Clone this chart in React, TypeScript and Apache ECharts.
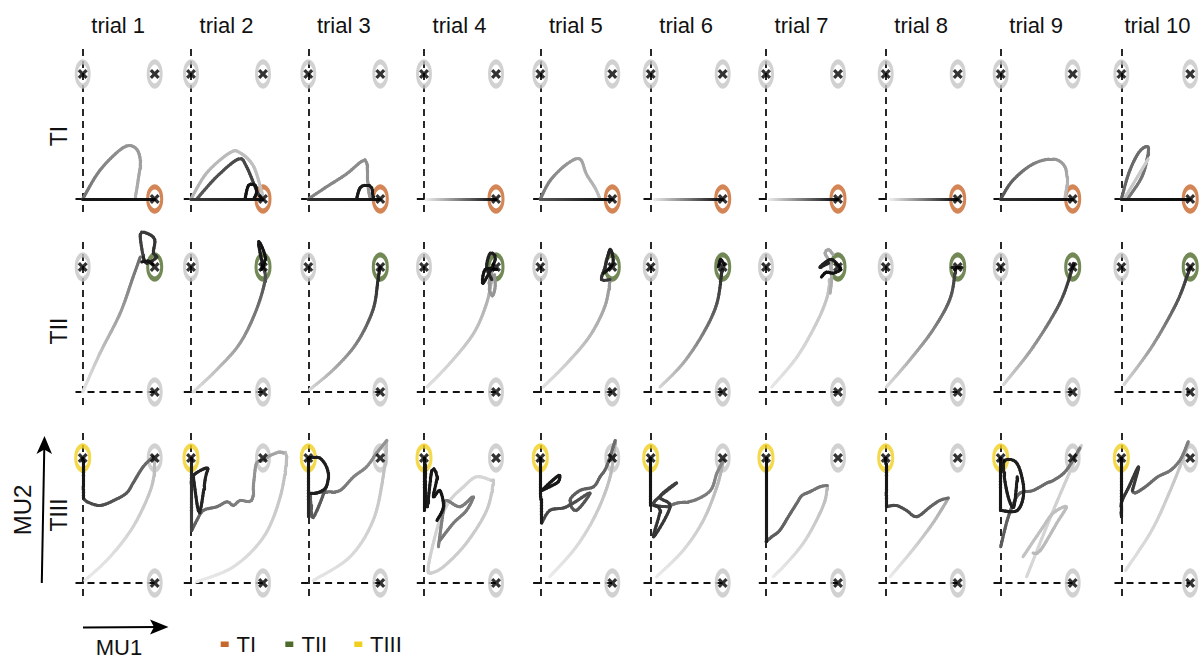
import React, { useEffect, useRef } from "react";
import * as echarts from "echarts";

type Pt = [number, number];
type Traj = { g: [number, number]; p: Pt[] };

// ---------- labels ----------
const trialLabels = ["trial 1", "trial 2", "trial 3", "trial 4", "trial 5", "trial 6", "trial 7", "trial 8", "trial 9", "trial 10"];
const rowLabels = ["TI", "TII", "TIII"];
const legendLabels = ["TI", "TII", "TIII"];
const axisLabelX = "MU1";
const axisLabelY = "MU2";
const targetColors = ["#c8672b", "#4f6b2c", "#f0d01e"];
const cornerPoints: Pt[] = [[0, 1], [1, 1], [1, 0]];
const targetPoints: Pt[] = [[1, 0], [1, 1], [0, 1]];

// ---------- trajectories (g = gray level at start / end, p = MU1, MU2 points) ----------
const TI_1: Traj[] = [
  { g: [115, 175], p: [[0, 0], [0.24, 0.23], [0.56, 0.41], [0.73, 0.41], [0.8, 0.31], [0.77, 0.15], [0.73, 0.01]] },
  { g: [25, 15], p: [[0, 0], [1, 0]] },
];
const TI_2: Traj[] = [
  { g: [180, 195], p: [[0, 0], [0.22, 0.21], [0.54, 0.37], [0.68, 0.37], [0.87, 0.26], [1.0, 0.02]] },
  { g: [90, 60], p: [[0.08, 0], [0.36, 0.18], [0.66, 0.32], [0.77, 0.26], [0.91, 0.07], [0.98, 0]] },
  { g: [20, 20], p: [[0.75, 0], [0.8, 0.11], [0.89, 0.11], [0.91, 0.05], [0.87, 0]] },
  { g: [60, 15], p: [[0, 0], [1, 0]] },
];
const TI_3: Traj[] = [
  { g: [130, 150], p: [[0, 0], [0.26, 0.1], [0.53, 0.2], [0.74, 0.3], [0.81, 0.29], [0.83, 0.1], [0.86, 0]] },
  { g: [25, 25], p: [[0.67, 0], [0.72, 0.09], [0.81, 0.11], [0.88, 0.09], [0.9, 0]] },
  { g: [50, 15], p: [[0, 0], [1, 0]] },
];
const TI_4: Traj[] = [{ g: [240, 10], p: [[0.03, 0], [0.6, 0], [1, 0]] }];
const TI_5: Traj[] = [
  { g: [120, 190], p: [[0, 0], [0.14, 0.15], [0.37, 0.28], [0.55, 0.32], [0.64, 0.2], [0.76, 0.09], [0.83, 0]] },
  { g: [90, 10], p: [[0, 0], [1, 0]] },
];
const TI_6: Traj[] = [{ g: [235, 10], p: [[0.05, 0], [1, 0]] }];
const TI_7: Traj[] = [{ g: [235, 10], p: [[0.05, 0], [1, 0]] }];
const TI_8: Traj[] = [{ g: [240, 10], p: [[0.07, 0], [1, 0]] }];
const TI_9: Traj[] = [
  { g: [80, 190], p: [[0, 0], [0.17, 0.15], [0.45, 0.28], [0.73, 0.32], [0.89, 0.26], [0.92, 0.13], [0.89, 0]] },
  { g: [50, 15], p: [[0, 0], [1, 0]] },
];
const TI_10: Traj[] = [
  { g: [100, 120], p: [[0, 0], [0.11, 0.21], [0.25, 0.37], [0.37, 0.42], [0.39, 0.37], [0.3, 0.18], [0.09, 0]] },
  { g: [195, 205], p: [[0.04, 0], [0.39, 0.32]] },
  { g: [30, 10], p: [[0, 0], [1, 0]] },
];

const TII_1: Traj[] = [
  { g: [230, 110], p: [[0, 0], [0.24, 0.31], [0.52, 0.63], [0.7, 0.92], [0.8, 1.08]] },
  { g: [70, 40], p: [[0.84, 1.08], [0.8, 1.26], [0.89, 1.27], [1.0, 1.22], [0.98, 1.11], [1.03, 1.08], [0.89, 1.03], [0.84, 1.08]] },
  { g: [25, 20], p: [[0.82, 1.04], [0.9, 1.05], [0.98, 1.02]] },
];
const TII_2: Traj[] = [
  { g: [225, 70], p: [[0.03, 0], [0.36, 0.18], [0.68, 0.39], [0.91, 0.66], [1.03, 0.9], [1.0, 1.0]] },
  { g: [30, 15], p: [[1.0, 1.0], [0.94, 1.18], [0.96, 1.19], [1.03, 1.08], [0.98, 0.98]] },
];
const TII_3: Traj[] = [
  { g: [215, 25], p: [[0.02, 0.02], [0.35, 0.18], [0.67, 0.39], [0.9, 0.66], [0.97, 0.91], [1.0, 1.0]] },
];
const TII_4: Traj[] = [
  { g: [225, 170], p: [[0.04, 0.04], [0.36, 0.23], [0.69, 0.47], [0.87, 0.71], [0.94, 0.9]] },
  { g: [150, 150], p: [[0.95, 0.98], [0.9, 0.85], [0.95, 0.77], [0.99, 0.85], [0.97, 0.94]] },
  { g: [40, 15], p: [[0.94, 0.9], [0.87, 1.0], [0.92, 1.11], [0.99, 1.06], [0.82, 0.87], [0.85, 0.98], [1.01, 0.98]] },
];
const TII_5: Traj[] = [
  { g: [225, 150], p: [[0.04, 0.04], [0.37, 0.23], [0.69, 0.45], [0.9, 0.69], [0.97, 0.9]] },
  { g: [60, 20], p: [[0.97, 0.9], [0.85, 0.9], [0.9, 1.0], [0.97, 1.14], [1.01, 1.03], [0.88, 0.95]] },
];
const TII_6: Traj[] = [
  { g: [215, 40], p: [[0.13, 0.04], [0.45, 0.23], [0.73, 0.47], [0.92, 0.71], [0.99, 0.98]] },
  { g: [20, 20], p: [[0.94, 1.0], [0.97, 1.06], [1.02, 1.02]] },
];
const TII_7: Traj[] = [
  { g: [230, 190], p: [[0.08, 0.04], [0.43, 0.28], [0.7, 0.55], [0.85, 0.76], [0.88, 0.9]] },
  { g: [175, 165], p: [[0.89, 0.79], [0.91, 0.9], [0.89, 1.03], [0.82, 1.11], [0.87, 1.14], [0.93, 1.1]] },
  { g: [40, 15], p: [[0.87, 1.03], [0.75, 1.0], [0.89, 1.06], [0.98, 1.03], [1.03, 0.98], [0.93, 0.95], [0.84, 0.96], [0.77, 0.92]] },
];
const TII_8: Traj[] = [
  { g: [220, 55], p: [[0.01, 0.04], [0.34, 0.26], [0.66, 0.5], [0.89, 0.74], [0.96, 0.95], [0.94, 1.0]] },
  { g: [30, 30], p: [[0.92, 1.0], [1.06, 1.0]] },
];
const TII_9: Traj[] = [{ g: [215, 35], p: [[0.04, 0.06], [0.45, 0.36], [0.82, 0.71], [0.99, 0.98], [1.01, 1.03]] }];
const TII_10: Traj[] = [{ g: [215, 45], p: [[0.04, 0.06], [0.44, 0.36], [0.8, 0.71], [0.97, 0.95], [1.01, 1.0]] }];

const TIII_1: Traj[] = [
  { g: [235, 185], p: [[0.03, 0.02], [0.38, 0.21], [0.7, 0.45], [0.94, 0.74], [1.0, 0.93], [0.98, 1.01]] },
  { g: [110, 70], p: [[0.98, 1.01], [0.84, 0.93], [0.7, 0.8], [0.61, 0.72], [0.43, 0.66], [0.24, 0.62], [0.06, 0.65], [0.01, 0.68]] },
  { g: [30, 15], p: [[0.01, 0.68], [0, 1.0]] },
];
const TIII_2: Traj[] = [
  { g: [235, 185], p: [[0.08, 0.01], [0.59, 0.13], [1.01, 0.37], [1.24, 0.69], [1.33, 1.01], [1.28, 1.04]] },
  { g: [170, 95], p: [[1.28, 1.04], [1.24, 1.05], [1.1, 1.02], [1.0, 0.98], [0.91, 0.96], [0.87, 0.8], [0.84, 0.66], [0.68, 0.66], [0.59, 0.62], [0.5, 0.65], [0.36, 0.61], [0.17, 0.58], [0.08, 0.5], [0.01, 0.42]] },
  { g: [35, 35], p: [[0.03, 0.86], [0.1, 0.58], [0.14, 0.61], [0.2, 0.84], [0.23, 0.92], [0.1, 0.89], [0.03, 0.86]] },
  { g: [70, 30], p: [[0.01, 0.42], [0, 1.0]] },
];
const TIII_3: Traj[] = [
  { g: [230, 185], p: [[0.07, 0.02], [0.58, 0.21], [0.9, 0.5], [1.04, 0.85], [1.09, 1.14]] },
  { g: [150, 110], p: [[1.09, 1.14], [0.95, 1.04], [0.81, 0.93], [0.63, 0.85], [0.44, 0.74], [0.26, 0.73], [0.07, 0.72]] },
  { g: [90, 90], p: [[0.03, 0.72], [0.05, 0.53], [0.12, 0.58], [0.25, 0.77]] },
  { g: [30, 30], p: [[0, 1], [0.16, 1.0], [0.27, 0.9], [0.25, 0.77], [0.12, 0.72], [0.03, 0.72]] },
  { g: [40, 20], p: [[0, 0.53], [0, 1]] },
];
const TIII_4: Traj[] = [
  { g: [215, 200], p: [[0.94, 0.82], [0.73, 0.85], [0.55, 0.77], [0.36, 0.66], [0.22, 0.5], [0.13, 0.32], [0.06, 0.13], [0.08, 0.08], [0.27, 0.13], [0.59, 0.32], [0.87, 0.58], [0.96, 0.8], [0.94, 0.82]] },
  { g: [130, 120], p: [[0.2, 0.29], [0.27, 0.58], [0.31, 0.66], [0.5, 0.61], [0.68, 0.69], [0.59, 0.58], [0.41, 0.48], [0.22, 0.34]] },
  { g: [30, 20], p: [[0.01, 0.96], [0.04, 0.61], [0.11, 0.9], [0.18, 0.85], [0.13, 0.69], [0.22, 0.74], [0.27, 0.61], [0.18, 0.5]] },
  { g: [20, 20], p: [[0, 0.58], [0, 1]] },
];
const TIII_5: Traj[] = [
  { g: [235, 175], p: [[0.13, 0.05], [0.5, 0.29], [0.78, 0.56], [0.97, 0.85], [1.04, 1.14]] },
  { g: [110, 70], p: [[1.04, 1.14], [0.92, 0.93], [0.83, 0.85], [0.74, 0.77], [0.55, 0.74], [0.41, 0.66], [0.5, 0.58], [0.69, 0.72], [0.46, 0.64], [0.32, 0.6], [0.13, 0.58], [0.02, 0.48]] },
  { g: [25, 25], p: [[0.02, 0.74], [0.13, 0.8], [0.23, 0.85], [0.27, 0.86], [0.25, 0.81], [0.13, 0.77], [0.02, 0.74]] },
  { g: [30, 15], p: [[0.01, 0.48], [0, 1]] },
];
const TIII_6: Traj[] = [
  { g: [235, 175], p: [[0.08, 0.05], [0.45, 0.26], [0.73, 0.5], [0.92, 0.77], [1.01, 0.98]] },
  { g: [140, 110], p: [[1.01, 0.98], [0.92, 0.88], [0.83, 0.74], [0.6, 0.66], [0.37, 0.64], [0.23, 0.61]] },
  { g: [70, 50], p: [[0.23, 0.61], [0.04, 0.64], [0.36, 0.8], [0.13, 0.69], [0.27, 0.61], [0.04, 0.37], [0.13, 0.58], [0.04, 0.62]] },
  { g: [25, 15], p: [[0, 0.62], [0, 1]] },
];
const TIII_7: Traj[] = [
  { g: [235, 185], p: [[0.1, 0.05], [0.29, 0.16], [0.52, 0.32], [0.7, 0.5], [0.82, 0.66], [0.85, 0.78]] },
  { g: [120, 90], p: [[0.85, 0.78], [0.75, 0.77], [0.61, 0.73], [0.5, 0.7], [0.43, 0.64], [0.31, 0.53], [0.19, 0.42], [0.08, 0.37], [0, 0.33]] },
  { g: [30, 15], p: [[0, 0.33], [0, 1]] },
];
const TIII_8: Traj[] = [
  { g: [235, 170], p: [[0.06, 0.05], [0.34, 0.24], [0.62, 0.45], [0.8, 0.61], [0.87, 0.68]] },
  { g: [110, 70], p: [[0.87, 0.68], [0.75, 0.66], [0.62, 0.61], [0.43, 0.53], [0.29, 0.58], [0.15, 0.62], [0.01, 0.61]] },
  { g: [30, 15], p: [[0.01, 0.61], [0, 1]] },
];
const TIII_9: Traj[] = [
  { g: [215, 205], p: [[0.36, 0.05], [0.73, 0.58], [1.12, 1.1]] },
  { g: [195, 185], p: [[0.31, 0.21], [0.59, 0.45], [0.73, 0.56], [0.91, 0.61], [0.78, 0.48], [0.55, 0.26], [0.45, 0.24]] },
  { g: [90, 120], p: [[0.0, 0.29], [0.09, 0.5], [0.18, 0.64], [0.27, 0.72], [0.45, 0.74], [0.64, 0.8], [0.73, 0.82], [0.91, 0.9], [1.1, 1.08]] },
  { g: [30, 30], p: [[0, 0.58], [0.23, 0.58], [0.32, 0.72], [0.27, 0.9], [0.18, 0.98], [0.04, 0.96], [0.09, 0.72], [0.18, 0.61], [0.23, 0.85]] },
  { g: [25, 20], p: [[0, 0.58], [0, 1]] },
];
const TIII_10: Traj[] = [
  { g: [225, 190], p: [[0.06, 0.1], [0.44, 0.42], [0.71, 0.74], [0.94, 1.06], [0.97, 1.13]] },
  { g: [130, 100], p: [[0.97, 1.13], [0.86, 0.99], [0.71, 0.9], [0.53, 0.85], [0.35, 0.77], [0.2, 0.72], [0.16, 0.74]] },
  { g: [60, 50], p: [[0.16, 0.74], [0.25, 0.93], [0.11, 0.77], [0.0, 0.64], [0.0, 0.53]] },
  { g: [30, 15], p: [[0, 0.53], [0, 1]] },
];

const rowsData: Traj[][][] = [
  [TI_1, TI_2, TI_3, TI_4, TI_5, TI_6, TI_7, TI_8, TI_9, TI_10],
  [TII_1, TII_2, TII_3, TII_4, TII_5, TII_6, TII_7, TII_8, TII_9, TII_10],
  [TIII_1, TIII_2, TIII_3, TIII_4, TIII_5, TIII_6, TIII_7, TIII_8, TIII_9, TIII_10],
];

// ---------- layout (pixels) ----------
const UX = 72;
const UY = 125;
const X_MIN = -0.2, X_MAX = 1.2, Y_MIN = -0.2, Y_MAX = 1.3;
const colOrigins = [82.7, 191, 308.3, 424, 540.3, 650.7, 766, 885.7, 1000.7, 1122];
const rowTops = [74, 267, 458];
const rowLabelY = [136, 331, 515];
const FONT = '"Liberation Sans", Arial, Helvetica, sans-serif';

const X_SYMBOL =
  "path://M2.3,0 L5,2.7 L7.7,0 L10,2.3 L7.3,5 L10,7.7 L7.7,10 L5,7.3 L2.3,10 L0,7.7 L2.7,5 L0,2.3 Z";

// smooth rendering of a trajectory (like a line series' smooth option), coloured along its length
function smoothPath(pts: Pt[]): Pt[] {
  if (pts.length < 3) return pts.slice();
  const out: Pt[] = [pts[0]];
  for (let i = 0; i < pts.length - 1; i++) {
    const p0 = pts[Math.max(0, i - 1)], p1 = pts[i], p2 = pts[i + 1], p3 = pts[Math.min(pts.length - 1, i + 2)];
    const len = Math.hypot((p2[0] - p1[0]) * UX, (p2[1] - p1[1]) * UY);
    const n = Math.max(2, Math.ceil(len / 3));
    for (let k = 1; k <= n; k++) {
      const t = k / n, t2 = t * t, t3 = t2 * t;
      const f = (a: number, b: number, c: number, d: number) =>
        0.5 * (2 * b + (-a + c) * t + (2 * a - 5 * b + 4 * c - d) * t2 + (-a + 3 * b - 3 * c + d) * t3);
      out.push([f(p0[0], p1[0], p2[0], p3[0]), f(p0[1], p1[1], p2[1], p3[1])]);
    }
  }
  return out;
}

function trajItems(tr: Traj) {
  const [g0, g1] = tr.g;
  let pts = smoothPath(tr.p);
  if (pts.length === 2) {
    const a = pts[0], b = pts[1];
    const len = Math.hypot((b[0] - a[0]) * UX, (b[1] - a[1]) * UY);
    const n = Math.max(1, Math.ceil(len / 3));
    pts = [];
    for (let k = 0; k <= n; k++) pts.push([a[0] + (b[0] - a[0]) * k / n, a[1] + (b[1] - a[1]) * k / n]);
  }
  const lens: number[] = [];
  let total = 0;
  for (let i = 0; i < pts.length - 1; i++) {
    const d = Math.hypot((pts[i + 1][0] - pts[i][0]) * UX, (pts[i + 1][1] - pts[i][1]) * UY);
    lens.push(d);
    total += d;
  }
  const items: any[] = [];
  let acc = 0;
  for (let i = 0; i < pts.length - 1; i++) {
    const f = total > 0 ? (acc + lens[i] / 2) / total : 0;
    const g = Math.round(g0 + (g1 - g0) * f);
    items.push({ coords: [pts[i], pts[i + 1]], lineStyle: { color: `rgb(${g},${g},${g})` } });
    acc += lens[i];
  }
  return items;
}

function buildOption() {
  const grid: any[] = [];
  const xAxis: any[] = [];
  const yAxis: any[] = [];
  const series: any[] = [];

  for (let r = 0; r < 3; r++) {
    for (let c = 0; c < 10; c++) {
      const i = r * 10 + c;
      grid.push({
        left: colOrigins[c] + X_MIN * UX,
        top: rowTops[r] - (Y_MAX - 1) * UY,
        width: (X_MAX - X_MIN) * UX,
        height: (Y_MAX - Y_MIN) * UY,
        show: false,
      });
      xAxis.push({ type: "value", gridIndex: i, min: X_MIN, max: X_MAX, show: false });
      yAxis.push({ type: "value", gridIndex: i, min: Y_MIN, max: Y_MAX, show: false });

      // dashed axes
      series.push({
        type: "lines",
        coordinateSystem: "cartesian2d",
        xAxisIndex: i,
        yAxisIndex: i,
        polyline: false,
        silent: true,
        clip: false,
        z: 1,
        lineStyle: { color: "#111", width: 1.8, type: [7, 5], opacity: 1 },
        data: [
          { coords: [[0, 1.2], [0, -0.11]] },
          { coords: [[-0.1, 0], [1.0, 0]] },
        ],
      });

      const tgt = targetPoints[r];
      const others = cornerPoints.filter((p) => !(p[0] === tgt[0] && p[1] === tgt[1]));
      series.push({
        type: "scatter",
        xAxisIndex: i,
        yAxisIndex: i,
        silent: true,
        z: 2,
        symbol: "circle",
        symbolSize: [13, 24],
        itemStyle: { color: "rgba(255,255,255,0)", borderColor: "#c6c6c6", borderWidth: 4 },
        data: others,
      });
      series.push({
        type: "scatter",
        name: legendLabels[r],
        xAxisIndex: i,
        yAxisIndex: i,
        silent: true,
        z: 2,
        symbol: "circle",
        symbolSize: [14, 24],
        itemStyle: { color: "rgba(255,255,255,0)", borderColor: targetColors[r], borderWidth: 4 },
        data: [tgt],
      });

      const items: any[] = [];
      rowsData[r][c].forEach((tr) => items.push(...trajItems(tr)));
      series.push({
        type: "lines",
        coordinateSystem: "cartesian2d",
        xAxisIndex: i,
        yAxisIndex: i,
        polyline: false,
        silent: true,
        clip: false,
        large: false,
        progressive: 0,
        z: 3,
        lineStyle: { width: 3.1, opacity: 1, cap: "round", join: "round" },
        data: items,
      });

      series.push({
        type: "scatter",
        xAxisIndex: i,
        yAxisIndex: i,
        silent: true,
        z: 4,
        symbol: X_SYMBOL,
        symbolSize: 10,
        itemStyle: { color: "#000" },
        data: cornerPoints,
      });
    }
  }

  const txt = (text: string, x: number, y: number, size: number, align = "center", rotation = 0) => ({
    type: "text",
    x,
    y,
    rotation,
    silent: true,
    style: {
      text,
      font: `${size}px ${FONT}`,
      fill: "#111",
      align,
      verticalAlign: "middle",
      textAlign: align,
      textVerticalAlign: "middle",
    },
  });

  const graphic: any[] = [];
  trialLabels.forEach((t, c) => graphic.push(txt(t, colOrigins[c] + 35.5, 25.5, 22)));
  rowLabels.forEach((t, r) => graphic.push(txt(t, 59, rowLabelY[r], 23, "center", Math.PI / 2)));
  graphic.push(txt(axisLabelY, 22, 510, 24, "center", Math.PI / 2));
  graphic.push(txt(axisLabelX, 119, 647, 22));
  // MU1 arrow
  graphic.push({ type: "line", silent: true, shape: { x1: 83, y1: 627.5, x2: 158, y2: 627 }, style: { stroke: "#000", lineWidth: 2 } });
  graphic.push({ type: "polygon", silent: true, shape: { points: [[168.5, 627], [150, 619.5], [154, 627], [150, 634.5]] }, style: { fill: "#000" } });
  // MU2 arrow
  graphic.push({ type: "line", silent: true, shape: { x1: 41.8, y1: 583, x2: 44.3, y2: 447 }, style: { stroke: "#000", lineWidth: 2 } });
  graphic.push({ type: "polygon", silent: true, shape: { points: [[44.5, 436], [36.5, 454], [44.3, 449.5], [52, 454]] }, style: { fill: "#000" } });
  // legend
  const legendSqX = [220.7, 285.3, 354.3];
  const legendTxX = [236.5, 301.5, 370];
  legendLabels.forEach((t, k) => {
    graphic.push({ type: "rect", silent: true, shape: { x: legendSqX[k], y: 641.5, width: 8, height: 5.5 }, style: { fill: targetColors[k] } });
    graphic.push(txt(t, legendTxX[k], 644.5, 22, "left"));
  });

  return {
    animation: false,
    backgroundColor: "#ffffff",
    grid,
    xAxis,
    yAxis,
    series,
    graphic,
  };
}

export default function App() {
  const ref = useRef<HTMLDivElement>(null);
  useEffect(() => {
    document.body.style.margin = "0";
    document.body.style.overflow = "hidden";
    const chart = echarts.init(ref.current!, null, { renderer: "svg" });
    chart.setOption(buildOption() as any);
    return () => chart.dispose();
  }, []);
  return <div ref={ref} style={{ width: 1204, height: 659, background: "#fff" }} />;
}
